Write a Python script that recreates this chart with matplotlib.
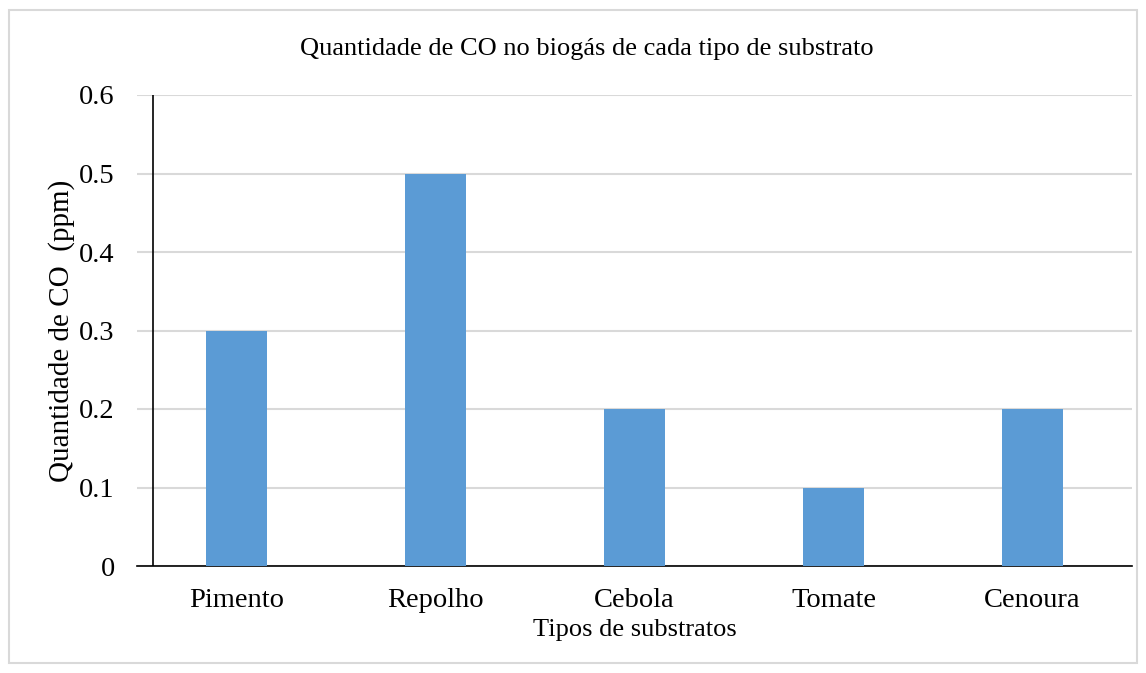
import matplotlib.pyplot as plt
from matplotlib.patches import Rectangle

substratos = ["Pimento", "Repolho", "Cebola", "Tomate", "Cenoura"]
co_ppm = [0.3, 0.5, 0.2, 0.1, 0.2]
y_ticks = [0, 0.1, 0.2, 0.3, 0.4, 0.5, 0.6]
y_tick_labels = ["0", "0.1", "0.2", "0.3", "0.4", "0.5", "0.6"]

plt.rcParams['font.family'] = ['Liberation Serif', 'DejaVu Serif']

fig = plt.figure(figsize=(11.46, 6.73), dpi=100)
ax = fig.add_axes([137 / 1146, 1 - 566 / 673, 995 / 1146, 471 / 673])

# light frame round the whole chart area
fig.patches.append(Rectangle((9 / 1146, 1 - 663 / 673), 1128 / 1146, 653 / 673,
                             transform=fig.transFigure, fill=False,
                             edgecolor="#d9d9d9", linewidth=1.5))

x = range(len(substratos))
ax.bar(x, co_ppm, width=0.31, color="#5b9bd5", zorder=3)

ax.set_xlim(-0.5, len(substratos) - 0.5)
ax.set_ylim(0, 0.6)
ax.set_yticks(y_ticks)
ax.set_yticklabels(y_tick_labels)
ax.set_xticks(list(x))
ax.set_xticklabels(substratos)
ax.tick_params(axis="both", length=0, labelsize=20.5)
ax.tick_params(axis="y", pad=16)
ax.tick_params(axis="x", pad=15.5)

ax.grid(axis="y", color="#d9d9d9", linewidth=1.5, zorder=0)
for side in ["top", "right", "left"]:
    ax.spines[side].set_visible(False)
ax.spines["bottom"].set_color("black")
ax.spines["bottom"].set_linewidth(1.2)
ax.axvline(-0.42, color="black", linewidth=1.2, zorder=4)

ax.set_xlabel("Tipos de substratos", fontsize=19, labelpad=5)
ax.set_ylabel("Quantidade de CO  (ppm)", fontsize=21, labelpad=3)
fig.text(587 / 1146, 1 - 49 / 673, "Quantidade de CO no biogás de cada tipo de substrato",
         ha="center", va="center", fontsize=19)

fig.savefig("out.png", dpi=100)
